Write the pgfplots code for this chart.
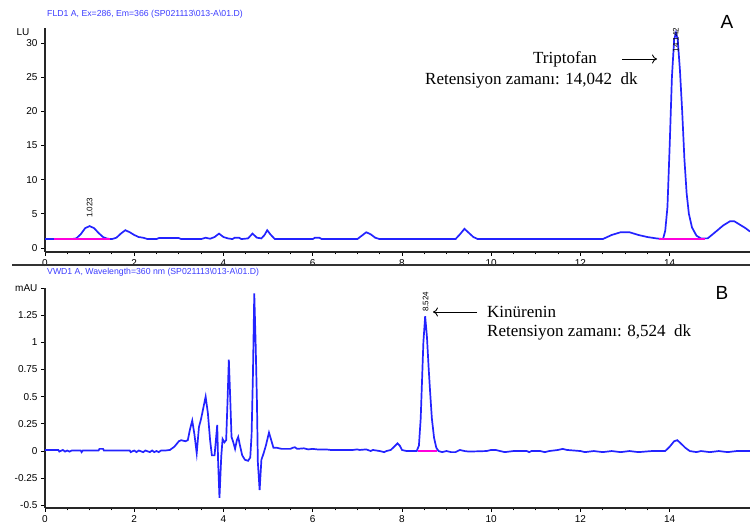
\documentclass[border=0pt]{standalone}
\usepackage{pgfplots}
\pgfplotsset{compat=1.18}
\usetikzlibrary{arrows.meta}
\usepackage{fontspec}
\setmainfont{Liberation Serif}
\newfontfamily\arial{Liberation Sans}
\definecolor{trace}{RGB}{35,35,255}
\definecolor{ttl}{RGB}{60,60,255}
\definecolor{pinkb}{RGB}{255,0,220}
\pgfplotsset{chrom/.style={
  scale only axis, width=705pt,
  axis lines*=left,
  xmin=0, xmax=15.8,
  xtick={0,2,...,14}, minor x tick num=3,
  tick align=outside, major tick length=4pt, minor tick length=2.5pt,
  every tick/.style={black, line width=0.9pt},
  axis line style={line width=1.3pt, black!85},
  every tick label/.append style={font=\arial\fontsize{10}{12}\selectfont, text=black},
  /pgf/number format/assume math mode=true,
  clip=false,
}}
\begin{document}
\begin{tikzpicture}[x=1pt,y=1pt]
\path[use as bounding box] (0,0) rectangle (750,524);
% ---------------- Panel A
\begin{axis}[chrom, at={(45pt,272pt)}, anchor=south west, height=224pt,
  ymin=-0.59, ymax=32.2, ytick={0,5,...,30}]
\addplot[trace, line width=1.7pt] coordinates {
(0,1.3) (0.6,1.3) (0.7,1.4) (0.8,2.0) (0.9,2.9) (1.0,3.2) (1.1,2.9) (1.2,2.2) (1.3,1.6) (1.4,1.35)
(1.5,1.3) (1.6,1.5) (1.7,2.1) (1.8,2.6) (1.9,2.3) (2.0,1.9) (2.1,1.6) (2.2,1.5) (2.3,1.3) (2.5,1.3)
(2.55,1.45) (3.0,1.45) (3.05,1.3) (3.5,1.3) (3.6,1.5) (3.7,1.35) (3.8,1.6) (3.9,2.1) (4.0,1.6) (4.1,1.4)
(4.2,1.3) (4.25,1.5) (4.35,1.5) (4.4,1.3) (4.55,1.4) (4.65,2.1) (4.75,1.5) (4.85,1.4) (4.92,1.9) (4.98,2.6)
(5.05,2.0) (5.15,1.3) (6.0,1.3) (6.05,1.5) (6.15,1.5) (6.2,1.3) (7.0,1.3) (7.1,1.8) (7.2,2.3) (7.3,2.0)
(7.4,1.5) (7.5,1.3) (9.2,1.3) (9.3,2.0) (9.4,2.8) (9.5,2.2) (9.6,1.6) (9.7,1.3) (12.5,1.3) (12.7,1.9)
(12.9,2.3) (13.1,2.3) (13.3,1.9) (13.5,1.6) (13.7,1.4) (13.85,1.3) (13.9,2.5) (13.95,6) (14.0,15) (14.05,25)
(14.1,30.5) (14.14,31.5) (14.18,30.5) (14.23,26) (14.28,20) (14.33,13) (14.38,8) (14.43,5) (14.5,3) (14.6,1.8)
(14.7,1.4) (14.85,1.4) (15.0,2.2) (15.2,3.3) (15.35,3.9) (15.45,3.9) (15.55,3.5) (15.7,2.9) (15.8,2.4)
};
\addplot[pinkb, line width=1.4pt] coordinates {(0.2,1.3) (1.45,1.3)};
\addplot[pinkb, line width=1.4pt] coordinates {(13.75,1.3) (14.8,1.3)};
\node[rotate=90, anchor=west, font=\arial\fontsize{8}{9}\selectfont, inner sep=0pt] at (axis cs:1.0,4.4) {1.023};
\node[rotate=90, anchor=west, font=\arial\fontsize{8}{9}\selectfont, inner sep=0pt] at (axis cs:14.14,28.6) {14.142};
\end{axis}
% ---------------- Panel B
\begin{axis}[chrom, at={(45pt,16pt)}, anchor=south west, height=220pt,
  ymin=-0.524, ymax=1.5,
  ytick={-0.5,-0.25,0,0.25,0.5,0.75,1,1.25,1.5},
  yticklabels={-0.5,-0.25,0,0.25,0.5,0.75,1,1.25,mAU}]
\addplot[trace, line width=1.7pt] coordinates {
(0,0.01) (0.3,0.01) (0.32,-0.005) (0.4,0.01) (0.45,-0.005) (0.5,0.005) (0.55,-0.005) (0.6,0.005) (0.8,0.005) (0.82,-0.01)
(0.85,0.005) (1.2,0.005) (1.22,0.02) (1.3,0.02) (1.32,0.005) (1.9,0.005) (1.92,-0.01) (2.0,0.005) (2.05,-0.01) (2.1,0.005)
(2.2,-0.01) (2.25,0.005) (2.35,-0.01) (2.4,0.005) (2.45,-0.01) (2.5,0.0) (2.55,-0.01) (2.6,0.005) (2.7,0.005) (2.8,0.01)
(2.9,0.04) (3.0,0.09) (3.05,0.1) (3.15,0.09) (3.2,0.1) (3.25,0.2) (3.3,0.28) (3.35,0.15) (3.4,-0.02) (3.45,0.22)
(3.5,0.3) (3.55,0.4) (3.6,0.5) (3.65,0.35) (3.7,0.1) (3.74,-0.04) (3.8,-0.04) (3.86,0.24) (3.88,-0.1) (3.91,-0.43)
(3.95,-0.05) (3.98,0.11) (4.02,0.08) (4.06,0.1) (4.09,0.45) (4.12,0.84) (4.15,0.5) (4.18,0.13) (4.22,0.08) (4.26,0.02)
(4.3,0.1) (4.33,0.13) (4.37,0.05) (4.42,-0.04) (4.48,-0.08) (4.55,-0.09) (4.6,-0.06) (4.63,0.15) (4.66,0.7) (4.69,1.45)
(4.72,1.0) (4.75,0.45) (4.77,-0.1) (4.81,-0.36) (4.85,-0.08) (4.9,-0.02) (4.95,0.05) (5.02,0.17) (5.07,0.1) (5.12,0.03)
(5.2,0.03) (5.3,0.02) (5.4,0.02) (5.5,0.02) (5.55,0.03) (5.6,0.035) (5.65,0.02) (5.8,0.025) (5.9,0.015) (6.0,0.02)
(6.1,0.015) (6.3,0.015) (6.4,0.01) (6.9,0.01) (7.0,0.015) (7.05,0.01) (7.2,0.015) (7.3,0.0) (7.35,0.01) (7.5,0.0)
(7.6,-0.01) (7.65,0.0) (7.75,0.01) (7.85,0.05) (7.9,0.07) (7.95,0.05) (8.0,0.01) (8.1,0.0) (8.33,0.0) (8.38,0.05)
(8.42,0.3) (8.45,0.65) (8.48,1.0) (8.52,1.24) (8.56,1.05) (8.6,0.75) (8.63,0.55) (8.67,0.3) (8.72,0.12) (8.77,0.03)
(8.82,0.0) (8.9,-0.01) (9.0,0.0) (9.1,-0.01) (9.2,-0.01) (9.3,0.01) (9.4,0.0) (9.5,-0.005) (9.9,0.0) (10.0,0.01)
(10.1,0.01) (10.2,0.0) (10.3,-0.01) (10.5,0.0) (10.8,0.0) (10.85,-0.01) (10.9,0.0) (11.1,0.0) (11.2,-0.01) (11.3,0.0)
(11.5,0.01) (11.6,0.02) (11.7,0.01) (12.0,0.0) (12.1,-0.01) (12.3,0.0) (12.5,-0.01) (12.7,0.0) (12.9,-0.01) (13.1,0.0)
(13.3,-0.01) (13.6,0.0) (13.9,0.0) (14.0,0.04) (14.1,0.09) (14.17,0.1) (14.25,0.07) (14.35,0.03) (14.45,0.0) (14.6,-0.01)
(14.7,0.0) (14.9,-0.01) (15.1,0.0) (15.3,-0.01) (15.5,0.0) (15.7,0.0) (15.8,0.0)
};
\addplot[pinkb, line width=1.4pt] coordinates {(8.35,0) (8.78,0)};
\node[rotate=90, anchor=west, font=\arial\fontsize{8}{9}\selectfont, inner sep=0pt] at (axis cs:8.53,1.28) {8.524};
\end{axis}
% ---------------- decorations
\node[anchor=west, text=ttl, font=\arial\fontsize{8.7}{10}\selectfont, inner sep=0pt] at (47,510) {FLD1 A, Ex=286, Em=366 (SP021113\textbackslash 013-A\textbackslash 01.D)};
\node[anchor=west, text=ttl, font=\arial\fontsize{8.7}{10}\selectfont, inner sep=0pt] at (47,252) {VWD1 A, Wavelength=360 nm (SP021113\textbackslash 013-A\textbackslash 01.D)};
\node[font=\arial\fontsize{10}{12}\selectfont, inner sep=0pt] at (23,492) {LU};
\draw[line width=1.8pt, black!80] (12,259) -- (750,259);
\node[font=\fontsize{17}{20}\selectfont, inner sep=0pt] at (565,465) {Triptofan};
\draw[-{To[length=5pt,width=9pt]}, line width=0.9pt] (622,465) -- (657,465);
\node[anchor=west, font=\fontsize{17}{20}\selectfont, inner sep=0pt] at (425,444) {Retensiyon zamanı: 14,042\ \ dk};
\node[font=\arial\fontsize{19}{22}\selectfont, inner sep=0pt] at (727,502) {A};
\node[anchor=west, font=\fontsize{17}{20}\selectfont, inner sep=0pt] at (487,212) {Kinürenin};
\draw[-{To[length=5pt,width=9pt]}, line width=0.9pt] (477,212) -- (433,212);
\node[anchor=west, font=\fontsize{17}{20}\selectfont, inner sep=0pt] at (487,192) {Retensiyon zamanı: 8,524\ \ dk};
\node[font=\arial\fontsize{19}{22}\selectfont, inner sep=0pt] at (722,231) {B};
\end{tikzpicture}
\end{document}
